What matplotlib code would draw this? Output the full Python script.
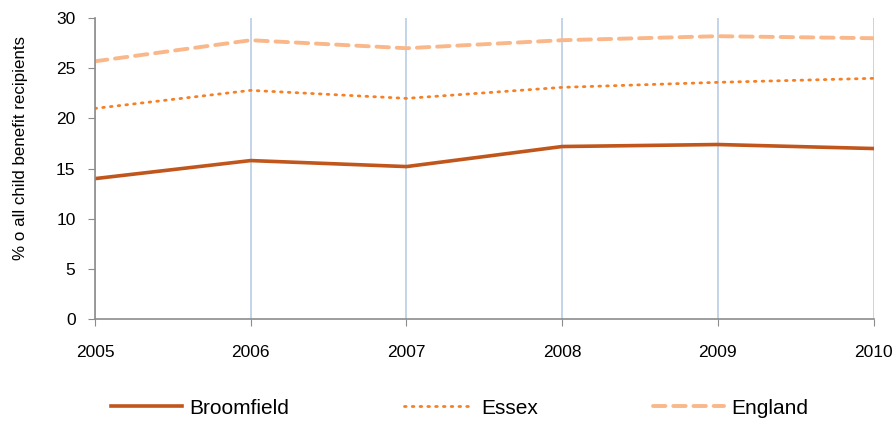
import matplotlib
matplotlib.use("Agg")
import matplotlib.pyplot as plt

plt.rcParams['font.family'] = ['Liberation Sans', 'DejaVu Sans']

years = [2005, 2006, 2007, 2008, 2009, 2010]
broomfield = [14.0, 15.8, 15.2, 17.2, 17.4, 17.0]
essex = [21.0, 22.8, 22.0, 23.1, 23.6, 24.0]
england = [25.7, 27.8, 27.0, 27.8, 28.2, 28.0]

fig = plt.figure(figsize=(8.96, 4.22), dpi=100)
ax = fig.add_axes([0.106, 0.244, 0.869, 0.713])

ax.plot(years, broomfield, color='#C0561B', linewidth=2.6, label='Broomfield')
ax.plot(years, essex, color='#F58025', linewidth=2.0, linestyle=(0, (0.6, 2.2)),
        dash_capstyle='round', label='Essex')
ax.plot(years, england, color='#FAB88A', linewidth=2.8, linestyle=(0, (3.2, 2.0)),
        dash_capstyle='round', label='England')

ax.set_xlim(2005, 2010)
ax.set_ylim(0, 30)
ax.set_xticks(years)
ax.set_yticks(range(0, 31, 5))
ax.grid(axis='x', color='#B9CDE5', linewidth=1.2)
ax.set_axisbelow(True)

for s in ['top', 'right']:
    ax.spines[s].set_visible(False)
for s in ['left', 'bottom']:
    ax.spines[s].set_color('#8C8C8C')
    ax.spines[s].set_linewidth(1.2)
ax.tick_params(axis='both', colors='#8C8C8C', labelcolor='black', labelsize=12.5, length=5)
ax.tick_params(axis='x', pad=14)
ax.tick_params(axis='y', pad=9)
ax.set_ylabel('% o all child benefit recipients', fontsize=12.2)
ax.yaxis.set_label_coords(-0.086, 0.57)

fig.legend(*ax.get_legend_handles_labels(), loc='center', bbox_to_anchor=(0.513, 0.033),
           ncol=3, frameon=False, fontsize=15, handlelength=3.4, columnspacing=5.5,
           handletextpad=0.35, borderpad=0)

fig.savefig('out.png', dpi=100)
